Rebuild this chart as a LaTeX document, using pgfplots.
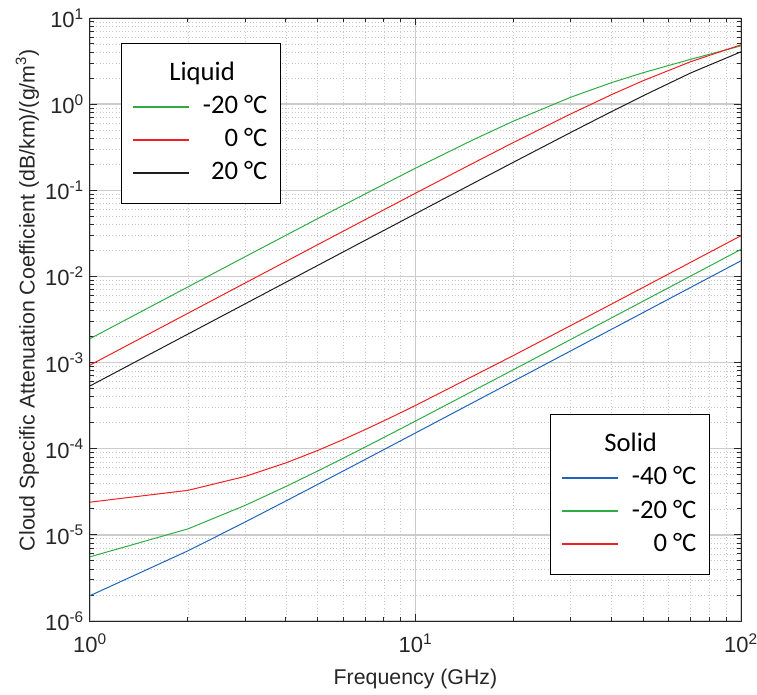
\documentclass[border=0pt]{standalone}
\usepackage{fontspec}
\setmainfont{Liberation Sans}
\newfontfamily\legfont{Carlito}
\usepackage{pgfplots}
\usepackage{pgfplotstable}
\pgfplotsset{compat=1.18}

\definecolor{lgreen}{RGB}{46,172,70}
\definecolor{lred}{RGB}{240,32,32}
\definecolor{lblue}{RGB}{30,100,190}
\definecolor{lblack}{RGB}{30,30,30}

\pgfplotstableread{
f K
1 1.894e-3
2 7.564e-3
3 1.698e-2
5 4.679e-2
7 9.066e-2
10 0.1806
15 0.3843
20 0.6359
30 1.2038
40 1.7761
50 2.3163
70 3.3144
100 4.7513
}\liqmtwenty
\pgfplotstableread{
f K
1 9.349e-4
2 3.739e-3
3 8.407e-3
5 2.3316e-2
7 4.558e-2
10 9.255e-2
15 0.2056
20 0.3593
30 0.7708
40 1.2880
50 1.8708
70 3.1070
100 4.8878
}\liqzero
\pgfplotstableread{
f K
1 5.358e-4
2 2.143e-3
3 4.821e-3
5 1.3386e-2
7 2.6217e-2
10 5.342e-2
15 0.11977
20 0.21184
30 0.46984
40 0.8190
50 1.2486
70 2.2995
100 4.05
}\liqtwenty
\pgfplotstableread{
f K
1 1.97e-6
2 6.53e-6
3 1.413e-5
4 2.477e-5
5 3.845e-5
6 5.517e-5
7 7.493e-5
8 9.773e-5
9 1.2357e-4
10 1.5245e-4
20 6.0845e-4
30 1.3685e-3
40 2.4325e-3
50 3.8005e-3
60 5.4725e-3
70 7.4485e-3
80 9.7285e-3
90 1.2313e-2
100 1.52e-2
}\solmforty
\pgfplotstableread{
f K
1 5.56e-6
2 1.174e-5
3 2.204e-5
4 3.646e-5
5 5.5e-5
6 7.766e-5
7 1.0444e-4
8 1.3534e-4
9 1.7036e-4
10 2.095e-4
20 8.275e-4
30 1.8575e-3
40 3.2995e-3
50 5.1535e-3
60 7.4195e-3
70 1.00975e-2
80 1.31875e-2
90 1.66895e-2
100 2.06035e-2
}\solmtwenty
\pgfplotstableread{
f K
1 2.397e-5
2 3.288e-5
3 4.773e-5
4 6.852e-5
5 9.525e-5
6 1.2792e-4
7 1.6653e-4
8 2.1108e-4
9 2.6157e-4
10 3.18e-4
20 1.209e-3
30 2.694e-3
40 4.773e-3
50 7.446e-3
60 1.0713e-2
70 1.4574e-2
80 1.9029e-2
90 2.4078e-2
100 2.9721e-2
}\solzero

\begin{document}
\begin{tikzpicture}
\begin{axis}[
  xmode=log, ymode=log,
  scale only axis,
  width=488.25pt, height=452.25pt,
  at={(0pt,0pt)}, anchor=south west,
  xmin=1, xmax=100, ymin=1e-6, ymax=10,
  legend cell align=right,
  legend style={draw=black, line width=0.75pt, fill=white,
    font=\legfont\fontsize{20}{24}\selectfont,
    inner xsep=8pt, inner ysep=10.5pt, row sep=0pt, column sep=7.5pt,
    nodes={inner ysep=3.4pt, text height=14pt, text depth=4pt},
    at={(0.0476,0.9585)}, anchor=north west},
  legend image code/.code={\draw[#1, line width=1.6pt] (0pt,0pt) -- (42pt,0pt);},
  axis line style={draw=black!85, line width=0.75pt},
  tick style={black!85, line width=0.75pt},
  tick align=inside,
  major tick length=5pt, minor tick length=3pt,
  xtick={1,10,100},
  xticklabels={10\textsuperscript{0},10\textsuperscript{1},10\textsuperscript{2}},
  minor xtick={2,3,4,5,6,7,8,9,20,30,40,50,60,70,80,90},
  ytick={1e-6,1e-5,1e-4,1e-3,1e-2,1e-1,1,10},
  yticklabels={10\textsuperscript{-6},10\textsuperscript{-5},10\textsuperscript{-4},10\textsuperscript{-3},10\textsuperscript{-2},10\textsuperscript{-1},10\textsuperscript{0},10\textsuperscript{1}},
  minor ytick={2e-6,3e-6,4e-6,5e-6,6e-6,7e-6,8e-6,9e-6,
    2e-5,3e-5,4e-5,5e-5,6e-5,7e-5,8e-5,9e-5,
    2e-4,3e-4,4e-4,5e-4,6e-4,7e-4,8e-4,9e-4,
    2e-3,3e-3,4e-3,5e-3,6e-3,7e-3,8e-3,9e-3,
    2e-2,3e-2,4e-2,5e-2,6e-2,7e-2,8e-2,9e-2,
    0.2,0.3,0.4,0.5,0.6,0.7,0.8,0.9,
    2,3,4,5,6,7,8,9},
  grid=both,
  major grid style={black!20, line width=1.1pt},
  minor grid style={black!22, dotted, line width=0.6pt},
  tick label style={font=\fontsize{16.5}{20}\selectfont, text=black!85},
  xticklabel style={yshift=-6pt},
  yticklabel style={xshift=-1pt},
  label style={font=\fontsize{16}{19}\selectfont, text=black!85},
  xlabel={Frequency (GHz)},
  xlabel style={at={(axis description cs:0.5,0)}, anchor=center, yshift=-43.5pt},
  ylabel={Cloud Specific Attenuation Coefficient (dB/km)/(g/m\textsuperscript{3})},
  ylabel style={at={(axis description cs:0,0.532)}, anchor=center, yshift=47pt},
]
\addlegendimage{empty legend}
\addlegendentry{\makebox[0pt][r]{Liquid\hspace*{24.4pt}}}
\addplot[lgreen, line width=0.75pt] table[x=f,y=K] {\liqmtwenty};
\addlegendentry{-20 °C}
\addplot[lred, line width=0.75pt] table[x=f,y=K] {\liqzero};
\addlegendentry{0 °C}
\addplot[lblack, line width=0.75pt] table[x=f,y=K] {\liqtwenty};
\addlegendentry{20 °C}
\end{axis}
\begin{axis}[
  xmode=log, ymode=log,
  scale only axis,
  width=488.25pt, height=452.25pt,
  at={(0pt,0pt)}, anchor=south west,
  xmin=1, xmax=100, ymin=1e-6, ymax=10,
  hide axis,
  legend cell align=right,
  legend style={draw=black, line width=0.75pt, fill=white,
    font=\legfont\fontsize{20}{24}\selectfont,
    inner xsep=8pt, inner ysep=10.5pt, row sep=0pt, column sep=7.5pt,
    nodes={inner ysep=3.4pt, text height=14pt, text depth=4pt},
    at={(0.7066,0.343)}, anchor=north west},
  legend image code/.code={\draw[#1, line width=1.6pt] (0pt,0pt) -- (42pt,0pt);},
]
\addlegendimage{empty legend}
\addlegendentry{\makebox[0pt][r]{Solid\hspace*{29.6pt}}}
\addplot[lblue, line width=0.75pt] table[x=f,y=K] {\solmforty};
\addlegendentry{-40 °C}
\addplot[lgreen, line width=0.75pt] table[x=f,y=K] {\solmtwenty};
\addlegendentry{-20 °C}
\addplot[lred, line width=0.75pt] table[x=f,y=K] {\solzero};
\addlegendentry{0 °C}
\end{axis}
\pgfresetboundingbox
\path (-67.5pt,-54.75pt) rectangle (500.25pt,465.75pt);
\end{tikzpicture}
\end{document}
